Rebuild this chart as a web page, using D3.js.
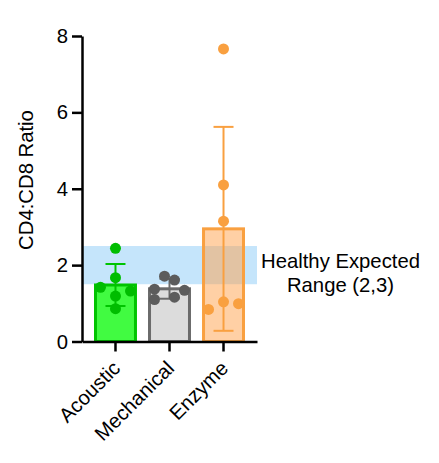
<!DOCTYPE html>
<html>
<head>
<meta charset="utf-8">
<script src="https://cdn.jsdelivr.net/npm/d3@7"></script>
<style>
  body { margin: 0; background: #fff; }
  text { font-family: "Liberation Sans", Arial, sans-serif; }
</style>
</head>
<body>
<div id="chart"></div>
<script>
// Groups and their read-off values
const groups = ["Acoustic", "Mechanical", "Enzyme"];
const means = [1.48, 1.38, 2.95];
const sds = [0.55, 0.26, 2.67];
const acousticPts = [2.44, 1.67, 1.42, 1.32, 1.19, 0.86];
const mechanicalPts = [1.71, 1.61, 1.37, 1.34, 1.10, 1.16];
const enzymePts = [7.66, 4.10, 3.15, 1.04, 0.84, 0.99];
const healthyRange = [1.5, 2.5];
const yTicks = [0, 2, 4, 6, 8];

// small horizontal spread of the dots, per point (pixels)
const jitter = [
  [0, 0, -15, 15, 0, 0],
  [-5, 5, -15, 15, -15, 5],
  [0, 0, 0, 0, -15, 15]
];

const fills = ["#41fb41", "#dcdcdc", "#ffa24c"];
const fillOpacity = [1, 1, 0.5];
const strokes = ["#00c400", "#6b6b6b", "#f9a040"];
const dotColors = ["#00bd00", "#5c5c5c", "#f9a040"];

const width = 439, height = 463;
const fontSize = "20.3px";

const svg = d3.select("#chart").append("svg")
  .attr("width", width)
  .attr("height", height);

const y = d3.scaleLinear().domain([0, 8]).range([341.5, 36]);
const x = d3.scaleBand().domain(groups).range([82, 257])
  .paddingInner(0.26).paddingOuter(0.25);

// healthy range band
svg.append("rect")
  .attr("x", 82)
  .attr("width", 257 - 82)
  .attr("y", y(healthyRange[1]))
  .attr("height", y(healthyRange[0]) - y(healthyRange[1]))
  .style("fill", "#c5e5fb");

svg.append("text")
  .attr("x", 340.5)
  .attr("y", 268)
  .attr("text-anchor", "middle")
  .style("font-size", fontSize)
  .text("Healthy Expected");
svg.append("text")
  .attr("x", 340.5)
  .attr("y", 292)
  .attr("text-anchor", "middle")
  .style("font-size", fontSize)
  .text("Range (2,3)");

// bars
svg.selectAll(".bar")
  .data(groups)
  .enter()
  .append("rect")
  .attr("class", "bar")
  .attr("x", d => x(d))
  .attr("width", x.bandwidth())
  .attr("y", (d, i) => y(means[i]))
  .attr("height", (d, i) => y(0) - y(means[i]))
  .style("fill", (d, i) => fills[i])
  .style("fill-opacity", (d, i) => fillOpacity[i])
  .style("stroke", (d, i) => strokes[i])
  .style("stroke-width", 3);

// error bars (mean +/- SD)
groups.forEach((g, i) => {
  const cx = x(g) + x.bandwidth() / 2;
  const top = y(means[i] + sds[i]);
  const bot = y(Math.max(0, means[i] - sds[i]));
  const eb = svg.append("g").style("stroke", strokes[i]).style("stroke-width", 2);
  eb.append("line").attr("x1", cx).attr("x2", cx).attr("y1", top).attr("y2", bot);
  eb.append("line").attr("x1", cx - 10).attr("x2", cx + 10).attr("y1", top).attr("y2", top);
  eb.append("line").attr("x1", cx - 10).attr("x2", cx + 10).attr("y1", bot).attr("y2", bot);
});

// individual points
const allPts = [acousticPts, mechanicalPts, enzymePts];
allPts.forEach((pts, i) => {
  const cx = x(groups[i]) + x.bandwidth() / 2;
  svg.selectAll(".dot" + i)
    .data(pts)
    .enter()
    .append("circle")
    .attr("cx", (d, j) => cx + jitter[i][j])
    .attr("cy", d => y(d))
    .attr("r", 5.5)
    .style("fill", dotColors[i]);
});

// y axis
const yAxis = svg.append("g")
  .attr("transform", "translate(82,0)")
  .call(d3.axisLeft(y).tickValues(yTicks).tickSize(10).tickSizeOuter(0).tickPadding(4));
yAxis.select(".domain").style("stroke-width", 2.5);
yAxis.selectAll(".tick line").style("stroke-width", 2.5);
yAxis.selectAll("text").style("font-size", fontSize).style("fill", "#000")
  .style("font-family", "'Liberation Sans', Arial, sans-serif");

// x axis
const xAxis = svg.append("g")
  .attr("transform", "translate(0,341.5)")
  .call(d3.axisBottom(x).tickSize(10).tickSizeOuter(0));
xAxis.select(".domain").style("stroke-width", 2.5);
xAxis.selectAll(".tick line").style("stroke-width", 2.5);
xAxis.selectAll("text")
  .attr("y", 0)
  .attr("dy", 0)
  .attr("transform", "translate(6,28) rotate(-45)")
  .attr("text-anchor", "end")
  .style("font-size", fontSize)
  .style("fill", "#000")
  .style("font-family", "'Liberation Sans', Arial, sans-serif");

// y title
svg.append("text")
  .attr("transform", "translate(33,180) rotate(-90)")
  .attr("text-anchor", "middle")
  .style("font-size", fontSize)
  .text("CD4:CD8 Ratio");
</script>
</body>
</html>
